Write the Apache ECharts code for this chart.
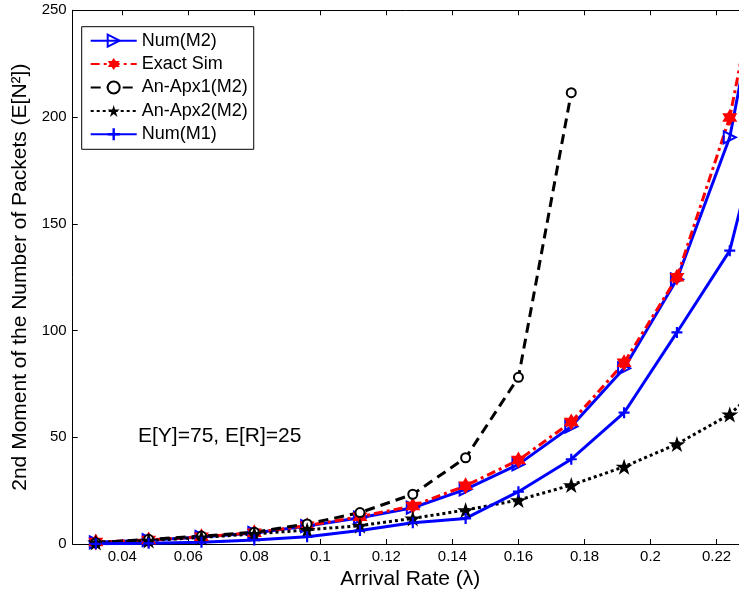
<!DOCTYPE html>
<html>
<head>
<meta charset="utf-8">
<script src="https://cdn.jsdelivr.net/npm/echarts@6/dist/echarts.min.js"></script>
<style>
  html, body { margin: 0; padding: 0; background: #fff; }
  #chart { width: 739px; height: 596px; }
</style>
</head>
<body>
<div id="chart"></div>
<script>
// arrival rates (lambda)
var lambdas = [0.032, 0.048, 0.064, 0.08, 0.096, 0.112, 0.128, 0.144, 0.16, 0.176, 0.192, 0.208, 0.224, 0.24];
var numM2   = [0.8, 1.8, 3.3, 5.2, 8.4, 12.3, 17.0, 25.6, 37.3, 55.0, 82.3, 124, 190.5, 320];
var exactSim = [0.9, 1.9, 3.4, 5.3, 8.6, 12.8, 17.8, 27.3, 39.3, 57.1, 84.9, 124.9, 199.8, 326];
var anApx1  = [0.6, 2.2, 3.7, 5.5, 9.4, 14.7, 23.3, 40.4, 78.1, 211.4];
var anApx2  = [0.7, 1.6, 3.1, 4.7, 6.6, 8.6, 12.0, 15.9, 20.6, 27.6, 36.2, 46.8, 60.7, 83.5];
var numM1   = [0.1, 0.3, 0.8, 1.9, 3.4, 6.3, 10.0, 12.0, 24.5, 39.7, 61.5, 99.1, 137.4, 236];
var xTicks  = [0.04, 0.06, 0.08, 0.1, 0.12, 0.14, 0.16, 0.18, 0.2, 0.22];

var FONT = 'Liberation Sans, Arial, Helvetica, sans-serif';
var hexagram = 'path://M100,0 L128.9,50 L186.6,50 L157.7,100 L186.6,150 L128.9,150 L100,200 L71.1,150 L13.4,150 L42.3,100 L13.4,50 L71.1,50 Z';
var pentagram = 'path://M100,0 L122.45,69.1 L195.1,69.1 L136.3,111.8 L158.8,180.9 L100,138.2 L41.2,180.9 L63.7,111.8 L4.9,69.1 L77.55,69.1 Z';
var plus = 'path://M4,0 L6,0 L6,4 L10,4 L10,6 L6,6 L6,10 L4,10 L4,6 L0,6 L0,4 L4,4 Z';

function pairs(vals) {
	var out = [];
	for (var i = 0; i < vals.length; i++) {
		out.push([lambdas[i], vals[i]]);
	}
	return out;
}

function fmt(v) {
	return String(parseFloat(v.toFixed(3)));
}

// the original figure is cut at the right edge, x runs on past 0.22
var xMin = 0.025, xMax = 0.2268;

var myChart = echarts.init(document.getElementById('chart'), null, { renderer: 'canvas' });
var option = {
	animation: false,
	backgroundColor: '#fff',
	textStyle: { fontFamily: FONT },
	grid: { left: 72.7, top: 10.3, bottom: 52, right: 0 },
	legend: {
		orient: 'vertical',
		left: 81.7,
		top: 26.7,
		padding: [5, 6, 6, 8],
		itemWidth: 46,
		itemHeight: 15,
		itemGap: 5.4,
		backgroundColor: '#fff',
		borderColor: '#000',
		borderWidth: 1,
		textStyle: { fontSize: 18, color: '#000', fontFamily: FONT },
		data: ['Num(M2)', 'Exact Sim', 'An-Apx1(M2)', 'An-Apx2(M2)', 'Num(M1)']
	},
	xAxis: [{
		type: 'value',
		min: xMin,
		max: xMax,
		position: 'bottom',
		axisLine: { lineStyle: { color: '#000', width: 1 } },
		axisTick: { inside: true, length: 5, customValues: xTicks, lineStyle: { color: '#000' } },
		axisLabel: { customValues: xTicks, formatter: fmt, color: '#000', fontSize: 15, margin: 5, fontFamily: FONT },
		splitLine: { show: false },
		name: 'Arrival Rate (\u03bb)',
		nameLocation: 'middle',
		nameGap: 23,
		nameTextStyle: { fontSize: 21, color: '#000', fontFamily: FONT, padding: [0, 0, 0, 9] }
	}, {
		type: 'value',
		min: xMin,
		max: xMax,
		position: 'top',
		axisLine: { lineStyle: { color: '#000', width: 1 } },
		axisTick: { inside: true, length: 5, customValues: xTicks, lineStyle: { color: '#000' } },
		axisLabel: { show: false },
		splitLine: { show: false }
	}],
	yAxis: {
		type: 'value',
		min: 0,
		max: 250,
		interval: 50,
		axisLine: { show: true, lineStyle: { color: '#000', width: 1 } },
		axisTick: { show: true, inside: true, length: 5, lineStyle: { color: '#000' } },
		axisLabel: { color: '#000', fontSize: 15, margin: 6, fontFamily: FONT },
		splitLine: { show: false },
		name: '2nd Moment of the Number of Packets (E[N\u00b2])',
		nameLocation: 'middle',
		nameGap: 33,
		nameTextStyle: { fontSize: 21, color: '#000', fontFamily: FONT }
	},
	graphic: [{
		type: 'text',
		left: 138,
		top: 426,
		style: { text: 'E[Y]=75, E[R]=25', font: '21px ' + FONT, fill: '#000' }
	}],
	series: [{
		name: 'Num(M2)',
		type: 'line',
		data: pairs(numM2),
		symbol: 'triangle',
		symbolRotate: -90,
		symbolSize: 12,
		clip: true,
		lineStyle: { color: '#0000ff', width: 3 },
		itemStyle: { color: 'rgba(0,0,0,0)', borderColor: '#0000ff', borderWidth: 2 }
	}, {
		name: 'Exact Sim',
		type: 'line',
		data: pairs(exactSim),
		symbol: hexagram,
		symbolSize: [15, 17],
		clip: true,
		lineStyle: { color: '#ff0000', width: 3, type: [9, 4, 3, 4] },
		itemStyle: { color: '#ff0000' }
	}, {
		name: 'An-Apx1(M2)',
		type: 'line',
		data: pairs(anApx1),
		symbol: 'circle',
		symbolSize: 9,
		clip: true,
		lineStyle: { color: '#000', width: 3, type: [10, 6] },
		itemStyle: { color: '#fff', borderColor: '#000', borderWidth: 2 }
	}, {
		name: 'An-Apx2(M2)',
		type: 'line',
		data: pairs(anApx2),
		symbol: pentagram,
		symbolSize: [17, 16],
		clip: true,
		lineStyle: { color: '#000', width: 3, type: [3, 3] },
		itemStyle: { color: '#000' }
	}, {
		name: 'Num(M1)',
		type: 'line',
		data: pairs(numM1),
		symbol: plus,
		symbolSize: 11,
		clip: true,
		lineStyle: { color: '#0000ff', width: 3 },
		itemStyle: { color: '#0000ff' }
	}]
};
myChart.setOption(option);
</script>
</body>
</html>
